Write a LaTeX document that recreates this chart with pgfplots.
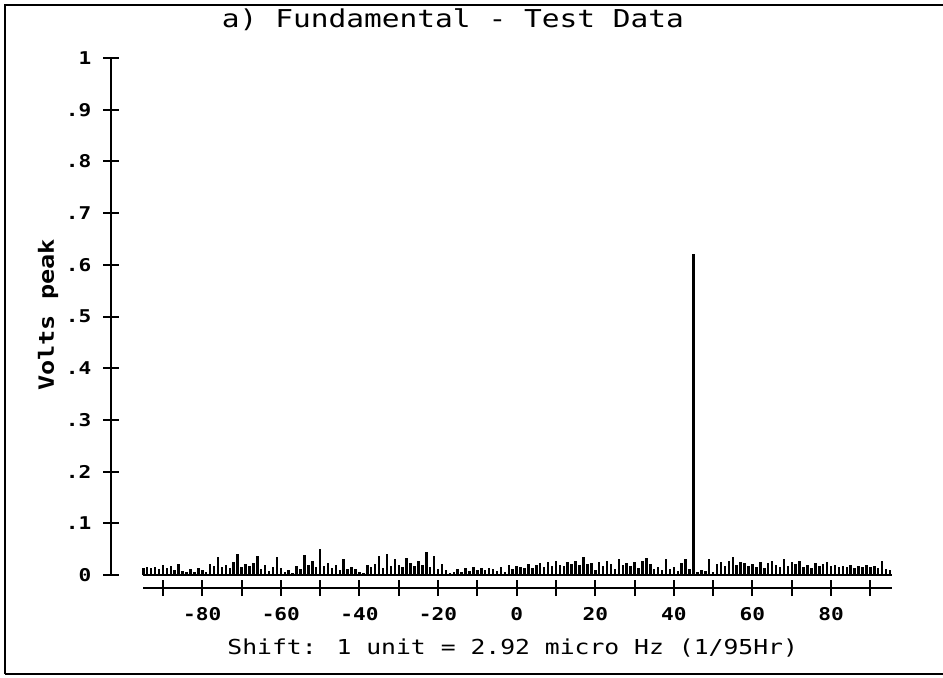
\documentclass[border=0pt]{standalone}
\usepackage{pgfplots}
\pgfplotsset{compat=1.18}
\usepackage{pgfplotstable}
\usepackage{fontspec}
\setmainfont{DejaVu Sans Mono}
\newfontfamily\plotfont[FakeStretch=1.2]{DejaVu Sans Mono}
\pgfplotstableread{
x y
-95 0.014
-94 0.016
-93 0.013
-92 0.015
-91 0.012
-90 0.020
-89 0.014
-88 0.017
-87 0.010
-86 0.021
-85 0.008
-84 0.006
-83 0.011
-82 0.005
-81 0.013
-80 0.009
-79 0.006
-78 0.022
-77 0.018
-76 0.035
-75 0.015
-74 0.019
-73 0.014
-72 0.025
-71 0.040
-70 0.016
-69 0.022
-68 0.018
-67 0.024
-66 0.036
-65 0.012
-64 0.020
-63 0.008
-62 0.016
-61 0.034
-60 0.014
-59 0.006
-58 0.009
-57 0.004
-56 0.018
-55 0.012
-54 0.038
-53 0.020
-52 0.028
-51 0.016
-50 0.050
-49 0.018
-48 0.024
-47 0.014
-46 0.020
-45 0.010
-44 0.030
-43 0.012
-42 0.016
-41 0.011
-40 0.006
-39 0.004
-38 0.020
-37 0.016
-36 0.022
-35 0.036
-34 0.014
-33 0.040
-32 0.018
-31 0.030
-30 0.020
-29 0.016
-28 0.032
-27 0.024
-26 0.018
-25 0.028
-24 0.020
-23 0.044
-22 0.015
-21 0.036
-20 0.012
-19 0.022
-18 0.010
-17 0.004
-16 0.006
-15 0.012
-14 0.005
-13 0.014
-12 0.008
-11 0.016
-10 0.010
-9 0.013
-8 0.009
-7 0.014
-6 0.011
-5 0.008
-4 0.015
-3 0.006
-2 0.020
-1 0.012
0 0.018
1 0.016
2 0.014
3 0.022
4 0.013
5 0.019
6 0.024
7 0.016
8 0.026
9 0.018
10 0.028
11 0.020
12 0.017
13 0.025
14 0.021
15 0.027
16 0.019
17 0.034
18 0.022
19 0.024
20 0.010
21 0.026
22 0.018
23 0.028
24 0.022
25 0.012
26 0.030
27 0.020
28 0.024
29 0.018
30 0.026
31 0.014
32 0.028
33 0.033
34 0.022
35 0.012
36 0.016
37 0.010
38 0.030
39 0.012
40 0.015
41 0.008
42 0.024
43 0.030
44 0.012
45 0.620
46 0.006
47 0.010
48 0.008
49 0.030
50 0.005
51 0.022
52 0.026
53 0.018
54 0.028
55 0.034
56 0.020
57 0.026
58 0.024
59 0.018
60 0.022
61 0.016
62 0.026
63 0.014
64 0.024
65 0.028
66 0.020
67 0.016
68 0.030
69 0.018
70 0.026
71 0.022
72 0.028
73 0.016
74 0.020
75 0.014
76 0.024
77 0.018
78 0.022
79 0.026
80 0.017
81 0.020
82 0.015
83 0.018
84 0.016
85 0.019
86 0.014
87 0.017
88 0.015
89 0.020
90 0.016
91 0.018
92 0.014
93 0.028
94 0.012
95 0.010
}\spectrum
\begin{document}
\begin{tikzpicture}
\useasboundingbox (-71.65pt,-51pt) rectangle (399.85pt,287.5pt);
\draw[line width=1pt] (-69.15pt,-49.5pt) -- (-69.15pt,285pt) -- (399.85pt,285pt);
\draw[line width=1pt] (-69.15pt,-49.5pt) -- (399.85pt,-49.5pt);
\node[font=\plotfont\fontsize{12.3}{14}\selectfont, anchor=center] at (154.85pt,277.5pt) {a) Fundamental - Test Data};
\begin{axis}[
  at={(0pt,0pt)}, anchor=south west,
  scale only axis, width=374.35pt, height=258.5pt,
  xmin=-95, xmax=95.5, ymin=0, ymax=1,
  clip=false,
  axis x line*=bottom, axis y line*=left,
  axis x line shift=6.5pt, axis y line shift=16pt,
  axis line style={line width=1pt,-},
  tick align=center, major tick length=8pt,
  tick style={line width=1pt, black},
  xtick={-90,-80,...,90},
  xticklabels={,-80,,-60,,-40,,-20,,0,,20,,40,,60,,80,},
  ytick={0,0.1,0.2,0.3,0.4,0.5,0.6,0.7,0.8,0.9,1},
  yticklabels={0,.1,.2,.3,.4,.5,.6,.7,.8,.9,1},
  ticklabel style={font=\plotfont\bfseries\fontsize{8.8}{10}\selectfont},
  xticklabel style={yshift=-2pt},
  yticklabel style={xshift=-2.5pt},
  xlabel={Shift: 1 unit = 2.92 micro Hz (1/95Hr)},
  xlabel style={at={(axis cs:-1,0)}, anchor=center, yshift=-36.5pt, font=\plotfont\fontsize{10.3}{12}\selectfont},
  ylabel={Volts peak},
  ylabel style={at={(rel axis cs:0,0.503)}, anchor=center, rotate=0, yshift=47.65pt, font=\plotfont\bfseries\fontsize{10.5}{12}\selectfont},
]
\addplot[black, line width=1.4pt] coordinates {(-95,0) (95.5,0)};
\addplot[ycomb, black, line width=1.25pt, mark=none] table[x=x, y=y] {\spectrum};
\end{axis}
\end{tikzpicture}
\end{document}
